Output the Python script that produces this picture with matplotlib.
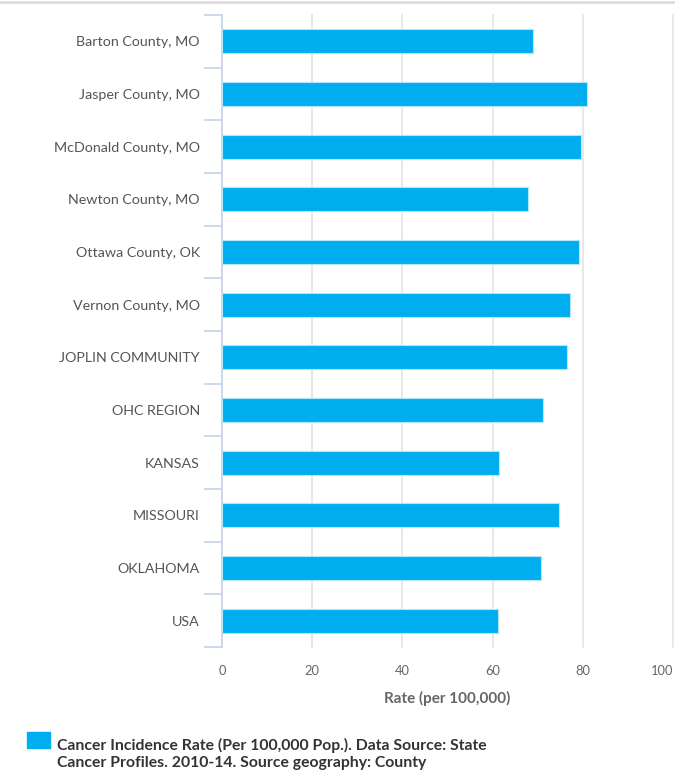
import matplotlib
matplotlib.use("Agg")
import matplotlib.pyplot as plt
import numpy as np

categories = ["Barton County, MO", "Jasper County, MO", "McDonald County, MO",
              "Newton County, MO", "Ottawa County, OK", "Vernon County, MO",
              "JOPLIN COMMUNITY", "OHC REGION", "KANSAS", "MISSOURI",
              "OKLAHOMA", "USA"]
rates = [68.9, 81.0, 79.5, 67.9, 79.1, 77.2, 76.6, 71.2, 61.4, 74.7, 70.7, 61.1]
x_ticks = [0, 20, 40, 60, 80, 100]
legend_text = ("Cancer Incidence Rate (Per 100,000 Pop.). Data Source: State\n"
               "Cancer Profiles. 2010-14. Source geography: County")

plt.rcParams['font.family'] = ['Lato', 'DejaVu Sans']
W, H = 675, 773
fig = plt.figure(figsize=(W / 100, H / 100), dpi=100)
ax = fig.add_axes([222 / W, 1 - 647 / H, (673 - 222) / W, (647 - 15) / H])

y = np.arange(len(categories))
ax.barh(y, rates, height=0.46, color="#00aeef", edgecolor="#b3e6fa", linewidth=0.8, zorder=3)
ax.set_ylim(len(categories) - 0.5, -0.5)
ax.set_xlim(0, 100)

ax.set_yticks(y)
ax.set_yticklabels(categories, fontsize=10.3, color="#555555")
ax.set_yticks(np.arange(-0.5, len(categories), 1), minor=True)
ax.tick_params(axis='y', which='major', length=0, pad=16)
ax.tick_params(axis='y', which='minor', length=13, color="#ccd6eb", width=1.3)

ax.set_xticks(x_ticks)
ax.set_xticklabels([str(t) for t in x_ticks], fontsize=9.3, color="#666666")
ax.get_xticklabels()[-1].set_ha('right')
ax.get_xticklabels()[-1].set_x(101.5)
ax.tick_params(axis='x', length=0, pad=13)
ax.grid(axis='x', color="#e6e6e6", linewidth=1.3, zorder=0)
for gl in ax.get_xgridlines():
    gl.set_clip_on(False)
ax.set_xlabel("Rate (per 100,000)", fontsize=11, color="#666666", fontweight='bold', labelpad=10)

for s in ['top', 'right', 'bottom']:
    ax.spines[s].set_visible(False)
ax.spines['left'].set_color("#ccd6eb")
ax.spines['left'].set_linewidth(1.3)

# top border line
fig.add_artist(plt.Line2D([0, 1], [1 - 1.5 / H, 1 - 1.5 / H], color="#dddddd", linewidth=2))

# legend
fig.add_artist(plt.Rectangle((27 / W, 1 - 748 / H), 23 / W, 16 / H, color="#00aeef"))
fig.text(57 / W, 1 - 754 / H, legend_text, fontsize=11.3, color="#333333",
         fontweight='bold', va='center', ha='left', linespacing=1.25)

fig.savefig("out.png", dpi=100)
